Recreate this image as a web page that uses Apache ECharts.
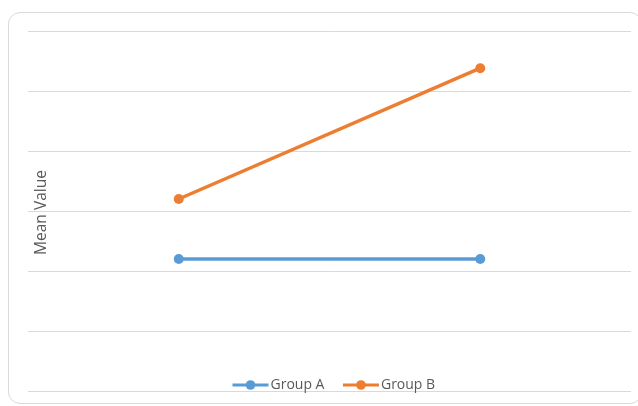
<!DOCTYPE html>
<html>
<head>
<meta charset="utf-8">
<script src="https://cdn.jsdelivr.net/npm/echarts@6/dist/echarts.min.js"></script>
<style>
  html, body { margin: 0; padding: 0; background: #fff; }
  #wrap { position: relative; width: 638px; height: 406px; overflow: hidden; }
  #frame { position: absolute; left: 8px; top: 12px; width: 632px; height: 390px;
           border: 1.5px solid #d9d9d9; border-radius: 12px; }
  #main { position: absolute; left: 0; top: 0; width: 638px; height: 406px; }
</style>
</head>
<body>
<div id="wrap">
  <div id="frame"></div>
  <div id="main"></div>
</div>
<script>
// data
var categories = ['Time 1', 'Time 2'];
var groupA = [2.2, 2.2];
var groupB = [3.2, 5.38];
var seriesNames = ['Group A', 'Group B'];
var colors = ['#5B9BD5', '#ED7D31'];

var myChart = echarts.init(document.getElementById('main'));
myChart.setOption({
	animation: false,
	color: colors,
	grid: { left: 28, right: 7, top: 31, bottom: 15, containLabel: false },
	legend: {
		data: seriesNames,
		bottom: 9,
		left: 226,
		itemWidth: 36,
		itemHeight: 12,
		itemGap: 17,
		lineStyle: { width: 3 },
		textStyle: { color: '#595959', fontSize: 14, fontFamily: 'Open Sans', padding: [0, 0, 0, -3] }
	},
	xAxis: {
		type: 'category',
		data: categories,
		boundaryGap: true,
		axisLine: { show: false },
		axisTick: { show: false },
		axisLabel: { show: false }
	},
	yAxis: {
		type: 'value',
		min: 0,
		max: 6,
		interval: 1,
		name: 'Mean Value',
		nameLocation: 'middle',
		nameGap: -22,
		nameTextStyle: { color: '#595959', fontSize: 15.5, fontFamily: 'Open Sans', padding: [0, 3, 0, 0] },
		axisLine: { show: false },
		axisTick: { show: false },
		axisLabel: { show: false },
		splitLine: { lineStyle: { color: '#d9d9d9', width: 1 } }
	},
	series: [
		{
			name: seriesNames[0],
			type: 'line',
			data: groupA,
			symbol: 'circle',
			symbolSize: 10,
			lineStyle: { width: 3.5 }
		},
		{
			name: seriesNames[1],
			type: 'line',
			data: groupB,
			symbol: 'circle',
			symbolSize: 10,
			lineStyle: { width: 3.5 }
		}
	]
});
</script>
</body>
</html>
